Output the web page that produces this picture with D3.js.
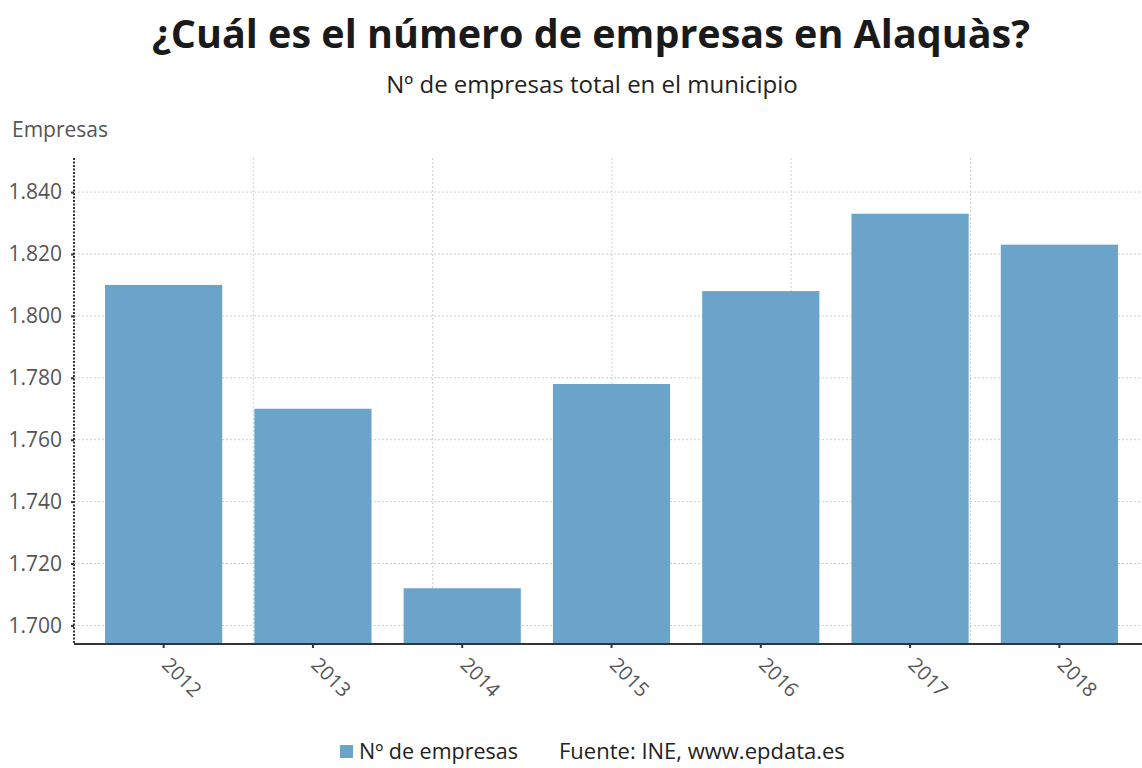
<!DOCTYPE html>
<html>
<head>
<meta charset="utf-8">
<script src="https://cdn.jsdelivr.net/npm/d3@7"></script>
<style>
  body { margin: 0; background: #fff; }
  svg, svg text { font-family: "Open Sans", "Noto Sans", sans-serif; }
</style>
</head>
<body>
<svg id="chart" width="1142" height="768"></svg>
<script>
// datos
const years = ["2012", "2013", "2014", "2015", "2016", "2017", "2018"];
const empresas = [1810, 1770, 1712, 1778, 1808, 1833, 1823];
const yTicks = [1700, 1720, 1740, 1760, 1780, 1800, 1820, 1840];

const svg = d3.select("#chart");
const fmt = d3.formatLocale({decimal: ",", thousands: ".", grouping: [3], currency: ["", "€"]}).format(",d");

const plotLeft = 74, plotRight = 1142, plotTop = 158, plotBottom = 644;

const x = d3.scaleBand()
    .domain(years)
    .range([89, 1134])
    .paddingInner(0.215)
    .paddingOuter(0.1075);

const y = d3.scaleLinear()
    .domain([1694, 1851])
    .range([plotBottom, plotTop]);

// rejilla vertical (no sigue las barras)
const gx = d3.scaleLinear().domain([0, 6]).range([plotLeft, plotLeft + 6 * 179.3]);
svg.append("g")
    .selectAll("line")
    .data([1, 2, 3, 4, 5])
    .enter()
    .append("line")
        .attr("x1", d => gx(d))
        .attr("x2", d => gx(d))
        .attr("y1", plotTop)
        .attr("y2", plotBottom)
        .attr("stroke", "#cfcfcf")
        .attr("stroke-dasharray", "2,2");

// rejilla horizontal
svg.append("g")
    .selectAll("line")
    .data(yTicks)
    .enter()
    .append("line")
        .attr("x1", plotLeft)
        .attr("x2", plotRight)
        .attr("y1", d => y(d))
        .attr("y2", d => y(d))
        .attr("stroke", "#cfcfcf")
        .attr("stroke-dasharray", "2,2");

// barras
svg.append("g")
    .selectAll("rect")
    .data(years)
    .enter()
    .append("rect")
        .attr("x", d => x(d))
        .attr("width", x.bandwidth())
        .attr("y", (d, i) => y(empresas[i]))
        .attr("height", (d, i) => plotBottom - y(empresas[i]))
        .attr("fill", "#6aa5c9");

// eje y
const yAxis = svg.append("g")
    .attr("transform", `translate(${plotLeft},0)`)
    .call(d3.axisLeft(y).tickValues(yTicks).tickFormat(fmt).tickSize(3).tickPadding(9));
yAxis.attr("font-family", null);
yAxis.select(".domain")
    .attr("stroke", "#333")
    .attr("stroke-width", 2)
    .attr("stroke-dasharray", "2,1.5")
    .attr("d", `M0,${plotTop}V${plotBottom}`);
yAxis.selectAll(".tick line").attr("stroke", "#333").attr("stroke-width", 2);
yAxis.selectAll(".tick text")
    .attr("fill", "#555")
    .style("font-size", "21px");

// eje x
const xAxis = svg.append("g")
    .attr("transform", `translate(0,${plotBottom})`)
    .call(d3.axisBottom(x).tickSize(4).tickSizeOuter(0));
xAxis.attr("font-family", null);
xAxis.select(".domain")
    .attr("stroke", "#333")
    .attr("stroke-width", 2)
    .attr("d", `M${plotLeft},0H${plotRight}`);
xAxis.selectAll(".tick line").attr("stroke", "#333").attr("stroke-width", 2);
xAxis.selectAll(".tick text")
    .attr("fill", "#555")
    .style("font-size", "20px")
    .attr("text-anchor", "start")
    .attr("dy", null)
    .attr("y", 0)
    .attr("transform", "translate(-3,22) rotate(45)");

// textos
svg.append("text")
    .attr("x", 591)
    .attr("y", 48)
    .attr("text-anchor", "middle")
    .attr("fill", "#1a1a1a")
    .style("font-size", "39.5px")
    .style("font-weight", "bold")
    .text("¿Cuál es el número de empresas en Alaquàs?");

svg.append("text")
    .attr("x", 592)
    .attr("y", 93)
    .attr("text-anchor", "middle")
    .attr("fill", "#222")
    .style("font-size", "24px")
    .text("Nº de empresas total en el municipio");

svg.append("text")
    .attr("x", 12)
    .attr("y", 137)
    .attr("fill", "#555")
    .style("font-size", "21px")
    .text("Empresas");

// leyenda
svg.append("rect")
    .attr("x", 340)
    .attr("y", 745)
    .attr("width", 13)
    .attr("height", 13)
    .attr("fill", "#6aa5c9");
svg.append("text")
    .attr("x", 359)
    .attr("y", 759)
    .attr("fill", "#222")
    .style("font-size", "21.5px")
    .text("Nº de empresas");
svg.append("text")
    .attr("x", 559)
    .attr("y", 759)
    .attr("fill", "#222")
    .style("font-size", "22px")
    .text("Fuente: INE, www.epdata.es");
</script>
</body>
</html>
